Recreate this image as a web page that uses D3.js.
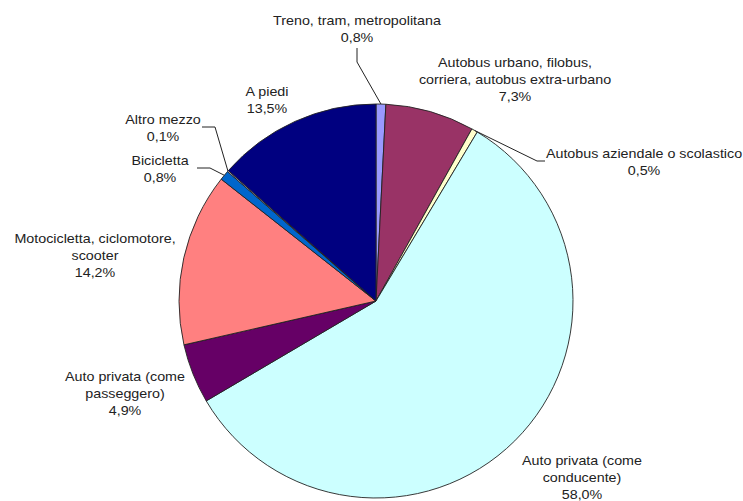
<!DOCTYPE html>
<html>
<head>
<meta charset="utf-8">
<script src="https://cdn.jsdelivr.net/npm/d3@7"></script>
<style>
  html, body { margin: 0; padding: 0; background: #fff; }
  svg { display: block; }
  text { font-family: Arial, "Liberation Sans", sans-serif; fill: #222; }
</style>
</head>
<body>
<svg id="chart" width="743" height="501"></svg>
<script>
// Modes of transport (label lines) and their shares, in percent
const categories = [
  ["Treno, tram, metropolitana"],
  ["Autobus urbano, filobus,", "corriera, autobus extra-urbano"],
  ["Autobus aziendale o scolastico"],
  ["Auto privata (come", "conducente)"],
  ["Auto privata (come", "passeggero)"],
  ["Motocicletta, ciclomotore,", "scooter"],
  ["Bicicletta"],
  ["Altro mezzo"],
  ["A piedi"]
];
const values = [0.8, 7.3, 0.5, 58.0, 4.9, 14.2, 0.8, 0.1, 13.5];
const colors = ["#9999FF", "#993366", "#FFFFCC", "#CCFFFF", "#660066",
                "#FF8080", "#0066CC", "#CCCCFF", "#000080"];

// Label placement: centre x and centre y of the first text line
const labelPos = [
  [357, 20], [515, 62], [644, 153], [582, 460.5], [125, 376],
  [95, 238], [160, 160], [163, 119], [267, 91]
];
// Leader lines: points from the label towards the slice edge (slice index -> points)
const leaders = {
  0: [[357, 48], [357, 62]],
  2: [[545, 161], [537, 161]],
  6: [[197, 168], [210, 168]],
  7: [[202, 127], [215, 127]]
};

const cx = 376, cy = 301, radius = 197, lineH = 17;
const fontSize = 13, stretchX = 1.1;
const fmt = v => d3.format(".1f")(v).replace(".", ",") + "%";

const svg = d3.select("#chart");
const g = svg.append("g").attr("transform", `translate(${cx},${cy})`);

const pie = d3.pie().sort(null).value(d => d);
const arcs = pie(values);
const arc = d3.arc().innerRadius(0).outerRadius(radius);

g.selectAll("path.slice")
  .data(arcs)
  .join("path")
  .attr("class", "slice")
  .attr("d", arc)
  .attr("fill", (d, i) => colors[i])
  .attr("stroke", "#222")
  .attr("stroke-width", 0.9)
  .attr("stroke-linejoin", "round");

// Leader lines end on the outer edge, at the middle angle of the slice
const edgePoint = (d) => {
  const a = (d.startAngle + d.endAngle) / 2;
  return [cx + radius * Math.sin(a), cy - radius * Math.cos(a)];
};
const line = d3.line();
Object.entries(leaders).forEach(([i, pts]) => {
  svg.append("path")
    .attr("d", line([...pts, edgePoint(arcs[+i])]))
    .attr("fill", "none")
    .attr("stroke", "#222")
    .attr("stroke-width", 1);
});

// Labels: category lines followed by the percentage, slightly widened type
const labels = svg.selectAll("g.lbl")
  .data(arcs)
  .join("g")
  .attr("class", "lbl")
  .attr("transform", (d, i) => `translate(${labelPos[i][0]},${labelPos[i][1]}) scale(${stretchX},1)`);

labels.each(function (d, i) {
  const lines = [...categories[i], fmt(values[i])];
  const t = d3.select(this).append("text")
    .attr("text-anchor", "middle")
    .attr("font-size", fontSize);
  lines.forEach((s, k) => {
    t.append("tspan")
      .attr("x", 0)
      .attr("y", k * lineH)
      .attr("dy", "0.35em")
      .text(s);
  });
});
</script>
</body>
</html>
